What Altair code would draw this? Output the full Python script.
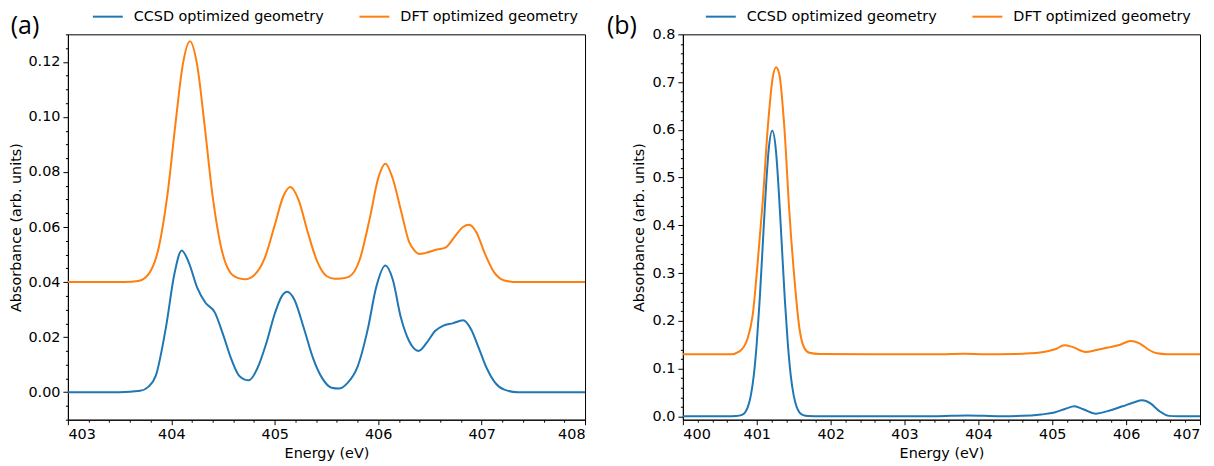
import altair as alt
import pandas as pd

# ---------------- data ----------------
SERIES = ["CCSD optimized geometry", "DFT optimized geometry"]
COLORS = ["#1f77b4", "#ff7f0e"]

# Panel (a)
A_E_CCSD = [403.0, 403.5, 403.7, 403.78, 403.85, 403.95, 404.03, 404.10, 404.17, 404.25,
            404.33, 404.42, 404.50, 404.58, 404.66, 404.75, 404.83, 404.92, 405.00, 405.07,
            405.12, 405.19, 405.28, 405.37, 405.46, 405.55, 405.62, 405.70, 405.80, 405.90,
            405.98, 406.07, 406.14, 406.22, 406.30, 406.39, 406.47, 406.55, 406.63, 406.72,
            406.82, 406.90, 406.97, 407.05, 407.13, 407.22, 407.35, 408.0]
A_V_CCSD = [0.0, 0.0, 0.0005, 0.002, 0.006, 0.024, 0.043, 0.0515, 0.047, 0.038,
            0.0325, 0.029, 0.021, 0.012, 0.0058, 0.0043, 0.0085, 0.018, 0.0285, 0.035,
            0.0365, 0.0336, 0.0234, 0.0124, 0.005, 0.0016, 0.0013, 0.0032, 0.0092, 0.023,
            0.038, 0.046, 0.041, 0.027, 0.0185, 0.015, 0.018, 0.0222, 0.0242, 0.025,
            0.0261, 0.0227, 0.0163, 0.0087, 0.0035, 0.0009, 0.0, 0.0]

A_E_DFT = [403.0, 403.55, 403.68, 403.78, 403.88, 403.96, 404.04, 404.11, 404.18, 404.25,
           404.32, 404.40, 404.48, 404.56, 404.64, 404.71, 404.80, 404.90, 405.00, 405.08,
           405.15, 405.23, 405.32, 405.41, 405.50, 405.58, 405.64, 405.72, 405.82, 405.92,
           406.00, 406.07, 406.14, 406.22, 406.30, 406.35, 406.40, 406.46, 406.57, 406.65,
           406.74, 406.82, 406.88, 406.95, 407.03, 407.12, 407.22, 407.35, 408.0]
A_V_DFT = [0.04, 0.04, 0.0404, 0.0429, 0.0528, 0.071, 0.0975, 0.1188, 0.1275, 0.1188,
           0.0975, 0.071, 0.0528, 0.044, 0.0415, 0.041, 0.0425, 0.0484, 0.0607, 0.0709,
           0.0745, 0.0699, 0.058, 0.0475, 0.0422, 0.0412, 0.0413, 0.042, 0.048, 0.0634,
           0.0777, 0.083, 0.0777, 0.066, 0.0545, 0.0515, 0.0502, 0.0506, 0.0518, 0.0525,
           0.0565, 0.060, 0.0608, 0.058, 0.0505, 0.0436, 0.0406, 0.04, 0.04]

# Panel (b)
B_E_CCSD = [400.0, 400.6, 400.72, 400.80, 400.88, 400.92, 400.96, 401.00, 401.04, 401.08,
            401.12, 401.16, 401.21, 401.26, 401.30, 401.34, 401.38, 401.42, 401.46, 401.50,
            401.54, 401.62, 401.70, 401.85, 403.4, 403.85, 404.3, 404.6, 404.85, 405.03,
            405.18, 405.30, 405.42, 405.59, 405.75, 405.95, 406.10, 406.22, 406.33, 406.45,
            406.58, 406.70, 407.0]
B_V_CCSD = [0.0, 0.0, 0.0005, 0.003, 0.02, 0.044, 0.086, 0.153, 0.245, 0.356,
            0.467, 0.556, 0.598, 0.556, 0.467, 0.356, 0.245, 0.153, 0.086, 0.044,
            0.02, 0.003, 0.0005, 0.0, 0.0, 0.002, 0.0003, 0.001, 0.004, 0.008,
            0.016, 0.021, 0.015, 0.0056, 0.011, 0.021, 0.029, 0.0335, 0.027, 0.011,
            0.001, 0.0, 0.0]

B_E_DFT = [400.0, 400.65, 400.766, 400.878, 400.946, 401.014, 401.081, 401.149, 401.216, 401.261,
           401.306, 401.374, 401.441, 401.509, 401.577, 401.644, 401.712, 401.85, 403.0, 403.5,
           403.8, 404.1, 404.5, 404.7, 404.92, 405.05, 405.16, 405.28, 405.45, 405.60,
           405.78, 405.92, 406.06, 406.18, 406.30, 406.42, 406.55, 407.0]
B_V_DFT = [0.13, 0.13, 0.136, 0.164, 0.213, 0.325, 0.45, 0.604, 0.709, 0.731,
           0.716, 0.604, 0.429, 0.29, 0.185, 0.143, 0.133, 0.1305, 0.13, 0.1302,
           0.131, 0.1302, 0.1305, 0.132, 0.136, 0.141, 0.149, 0.145, 0.135, 0.139,
           0.145, 0.150, 0.158, 0.153, 0.140, 0.132, 0.1302, 0.13]

# ---------------- helpers ----------------
FONT = "DejaVu Sans"
FS = 14.4


def frame(e_c, v_c, e_d, v_d):
    return pd.concat([
        pd.DataFrame({"E": e_c, "A": v_c, "s": SERIES[0]}),
        pd.DataFrame({"E": e_d, "A": v_d, "s": SERIES[1]}),
    ])


def minor_values(lo, hi, step):
    n = int(round((hi - lo) / step))
    return [round(lo + i * step, 6) for i in range(n + 1)]


def make_axis(values, major_step, fmt, title, title_pad):
    test = f"abs(datum.value/{major_step} - round(datum.value/{major_step})) < 1e-6"
    return alt.Axis(
        values=values,
        title=title,
        grid=False,
        labelExpr=f"({test}) ? format(datum.value, '{fmt}') : ''",
        labelOverlap=False,
        tickSize={"condition": {"test": test, "value": 5}, "value": 2.5},
        tickColor="black",
        tickWidth=1,
        domainColor="black",
        labelColor="black",
        titleColor="black",
        labelFont=FONT,
        titleFont=FONT,
        labelFontSize=FS,
        titleFontSize=FS,
        titleFontWeight="normal",
        labelPadding=3,
        titlePadding=title_pad,
    )


def panel(df, xdom, xvals, xstep, xfmt, ydom, yvals, ystep, yfmt, tag, tag_x, leg_x, ypad):
    lines = alt.Chart(df).mark_line(strokeWidth=2, interpolate="monotone", clip=True).encode(
        x=alt.X("E:Q", scale=alt.Scale(domain=xdom, nice=False, zero=False),
                axis=make_axis(xvals, xstep, xfmt, "Energy (eV)", 5)),
        y=alt.Y("A:Q", scale=alt.Scale(domain=ydom, nice=False, zero=False),
                axis=make_axis(yvals, ystep, yfmt, "Absorbance (arb. units)", ypad)),
        color=alt.Color("s:N", sort=SERIES,
                        scale=alt.Scale(domain=SERIES, range=COLORS),
                        legend=alt.Legend(title=None, orient="none", direction="horizontal",
                                          legendX=leg_x, legendY=-34,
                                          symbolType="stroke", symbolSize=900,
                                          symbolStrokeWidth=2, labelFont=FONT,
                                          labelFontSize=FS, labelColor="black",
                                          labelLimit=400,
                                          labelOffset=10, columnPadding=31)),
        detail="s:N",
    )
    label = alt.Chart(pd.DataFrame({"t": [tag]})).mark_text(
        font="Open Sans", fontSize=25, align="center", baseline="middle", color="black"
    ).encode(text="t:N", x=alt.value(tag_x), y=alt.value(-8))
    return alt.layer(lines, label).properties(width=518, height=386)


df_a = frame(A_E_CCSD, A_V_CCSD, A_E_DFT, A_V_DFT)
df_b = frame(B_E_CCSD, B_V_CCSD, B_E_DFT, B_V_DFT)

pa = panel(df_a, [403, 408], minor_values(403, 408, 0.2), 1, "d",
           [-0.01, 0.13], minor_values(-0.01, 0.13, 0.005), 0.02, ".2f", "(a)", -43, 24, 4)
pb = panel(df_b, [400, 407], minor_values(400, 407, 0.2), 1, "d",
           [-0.007, 0.8], minor_values(0.0, 0.8, 0.02), 0.1, ".1f", "(b)", -61, 22, 6)

chart = alt.hconcat(pa, pb, spacing=20).resolve_legend(color="independent").configure(
    padding={"left": 0, "top": -9, "right": 5, "bottom": 0}
).configure_view(stroke="black", strokeWidth=1)

chart.save("out.html", embed_options={"renderer": "svg", "actions": False})
